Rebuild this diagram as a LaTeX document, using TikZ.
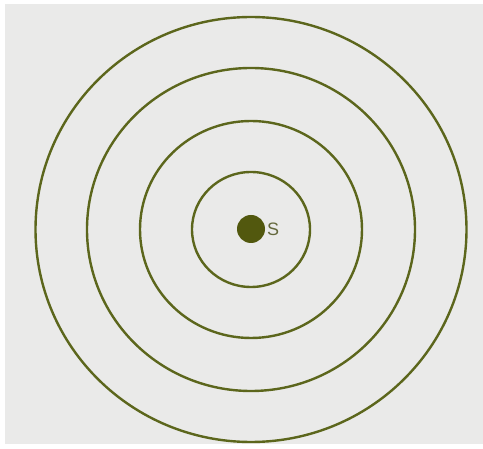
\documentclass[tikz,border=0pt]{standalone}
\usepackage{fontspec}
\setmainfont{Liberation Sans}
\definecolor{bgpaper}{RGB}{234,234,233}
\definecolor{ringgreen}{RGB}{92,102,28}
\definecolor{dotgreen}{RGB}{82,88,14}
\definecolor{labelgreen}{RGB}{100,104,60}
\tikzset{
  ring/.style={draw=ringgreen, line width=2.4pt},
  source/.style={circle, fill=dotgreen, minimum size=28pt, inner sep=0pt},
  srclabel/.style={text=labelgreen, font=\fontsize{18}{18}\selectfont, inner sep=0pt, anchor=west}
}
\begin{document}
\begin{tikzpicture}[x=1pt,y=-1pt]
\useasboundingbox (0,0) rectangle (483,449);
\fill[white] (0,0) rectangle (483,449);
\fill[bgpaper] (5,4) rectangle (483,444);
\coordinate (c) at (251,229.5);
\draw[ring] (c) ellipse [x radius=215.5, y radius=212.5];
\draw[ring] (c) ellipse [x radius=164, y radius=161.5];
\draw[ring] (c) ellipse [x radius=111, y radius=108.5];
\draw[ring] (c) ellipse [x radius=59, y radius=57.5];
\node[source] (s) at (251,229) {};
\node[srclabel] (slabel) at (267,229.5) {S};
\end{tikzpicture}
\end{document}
